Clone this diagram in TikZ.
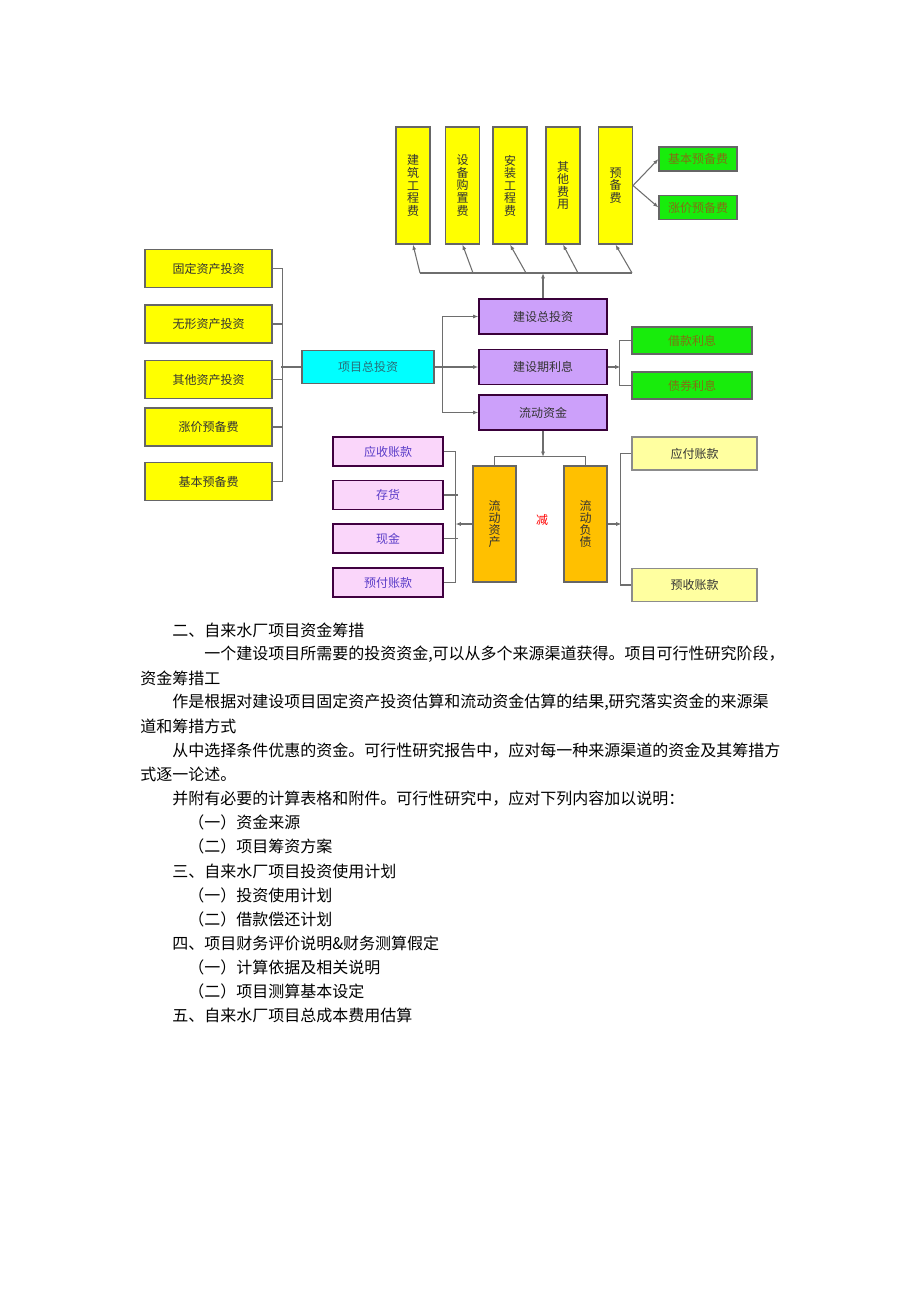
\documentclass[tikz,border=0pt]{standalone}
\usepackage{fontspec}
\setmainfont{Noto Sans CJK SC}
\usetikzlibrary{arrows.meta,positioning}

\definecolor{boxyellow}{RGB}{255,255,0}
\definecolor{boxgreen}{RGB}{24,236,12}
\definecolor{greentext}{RGB}{130,112,20}
\definecolor{boxcyan}{RGB}{0,255,255}
\definecolor{cyantext}{RGB}{40,110,120}
\definecolor{boxpurple}{RGB}{204,160,250}
\definecolor{boxpink}{RGB}{250,214,250}
\definecolor{pinktext}{RGB}{90,60,200}
\definecolor{boxorange}{RGB}{255,192,0}
\definecolor{boxlight}{RGB}{255,255,160}
\definecolor{linegray}{RGB}{110,110,110}

\begin{document}
\begin{tikzpicture}
      [x=0.75pt, y=-0.75pt,
      link/.style={draw=linegray, line width=0.8pt},
      arrow/.style={link, -{Latex[length=4pt,width=3pt]}},
      base box/.style={draw=black!60, line width=0.8pt, inner sep=0pt, align=center,
        font=\fontsize{9}{9.4}\selectfont, text=black!80},
      tall box/.style={base box, fill=boxyellow, minimum width=25.5pt, minimum height=87.75pt},
      left box/.style={base box, fill=boxyellow, minimum width=95.25pt, minimum height=28.5pt},
      green box/.style={base box, fill=boxgreen, text=greentext},
      total box/.style={base box, fill=boxcyan, text=cyantext, minimum width=99pt, minimum height=24.75pt},
      purple box/.style={base box, fill=boxpurple, draw=black!55!violet, minimum width=96pt, minimum height=26.25pt},
      pink box/.style={base box, fill=boxpink, draw=black!50!violet, text=pinktext, minimum width=82.5pt, minimum height=21.75pt},
      flow box/.style={base box, fill=boxorange, minimum width=32.25pt, minimum height=87pt,
        font=\fontsize{9}{9}\selectfont},
      light box/.style={base box, draw=black!45, fill=boxlight, minimum width=93.75pt, minimum height=24.75pt},
      para/.style={anchor=west, inner sep=0pt, font=\fontsize{12}{14}\selectfont}
      ]
    \useasboundingbox (0,0) rectangle (920,1302);

    % construction cost items
    \node[tall box] (jz) at (413,185.5) {建\\筑\\工\\程\\费};
    \node[tall box] (sb) at (462.5,185.5) {设\\备\\购\\置\\费};
    \node[tall box] (az) at (510,185.5) {安\\装\\工\\程\\费};
    \node[tall box] (qt) at (563,185.5) {其\\他\\费\\用};
    \node[tall box] (yb) at (615.5,185.5) {预\\备\\费};
    \node[green box, minimum width=58.5pt, minimum height=18pt] (jb top) at (698,159) {基本预备费};
    \node[green box, minimum width=58.5pt, minimum height=18pt] (zj top) at (698,207.5) {涨价预备费};

    % left column
    \node[left box] (gd) at (208.5,268.5) {固定资产投资};
    \node[left box] (wx) at (208.5,324) {无形资产投资};
    \node[left box] (qz) at (208.5,379.5) {其他资产投资};
    \node[left box] (zj) at (208.5,427) {涨价预备费};
    \node[left box] (jb) at (208.5,481.5) {基本预备费};

    \node[total box] (zt) at (368,367) {项目总投资};

    \node[purple box] (js) at (543,316.5) {建设总投资};
    \node[purple box] (jq) at (543,367) {建设期利息};
    \node[purple box] (ld) at (543,412.5) {流动资金};

    \node[green box, minimum width=90pt, minimum height=20.25pt] (jk) at (692,340.5) {借款利息};
    \node[green box, minimum width=90pt, minimum height=20.25pt] (zq) at (692,385.5) {债券利息};

    % working capital
    \node[pink box] (ys) at (388,451.5) {应收账款};
    \node[pink box] (ch) at (388,495) {存货};
    \node[pink box] (xj) at (388,538.5) {现金};
    \node[pink box] (yf) at (388,582.5) {预付账款};

    \node[flow box] (lz) at (494.5,524) {流\\动\\资\\产};
    \node[flow box] (lf) at (585.5,524) {流\\动\\负\\债};
    \node[text=red, font=\fontsize{9}{9}\selectfont] (jian) at (542,520) {减};

    \node[light box] (yfz) at (694.5,453.5) {应付账款};
    \node[light box] (ysz) at (694.5,585) {预收账款};

    % connectors
    \draw[link] (gd.east) -- ++(10,0) |- (jb.east);
    \draw[link] (wx.east) -- ++(10,0);
    \draw[link] (qz.east) -- ++(10,0);
    \draw[link] (zj.east) -- ++(10,0);
    \draw[link] (zt.west) -- ++(-20,0);

    \coordinate (bus) at (543,273);
    \foreach \n/\x in {jz/420, sb/473, az/526, qt/578, yb/632}
      \coordinate (t\n) at (\x,273);
    \draw[link] (tjz) -- (tyb);
    \foreach \n in {jz, sb, az, qt, yb}
      \draw[arrow] (t\n) -- (\n.south);
    \draw[arrow] (js.north) -- (bus);
    \draw[arrow] (yb.east) -- (jb top.west);
    \draw[arrow] (yb.east) -- (zj top.west);

    \draw[link] (zt.east) -- ++(8,0) coordinate (zr);
    \draw[arrow] (zr) |- (js.west);
    \draw[arrow] (zr) -- (jq.west);
    \draw[arrow] (zr) |- (ld.west);

    \draw[link] (jk.west) -- ++(-12,0) |- (zq.west);
    \draw[arrow] (jq.east) -- ++(13,0);

    \coordinate (split) at (543,457);
    \draw[arrow] (ld.south) -- (split);
    \draw[link] (lz.north) -- ++(0,-9) -| (lf.north);

    \draw[link] (ys.east) -- ++(12,0) |- (yf.east);
    \draw[link] (ch.east) -- ++(14,0);
    \draw[link] (xj.east) -- ++(14,0);
    \draw[arrow] (lz.west) -- ++(-17,0);

    \draw[link] (yfz.west) -- ++(-11,0) |- (ysz.west);
    \draw[arrow] (lf.east) -- ++(14,0);

    % text below the chart
    \node[para] (t1) at (172,630) {二、自来水厂项目资金筹措};
    \node[para] (t2) at (204,654.1) {一个建设项目所需要的投资资金,可以从多个来源渠道获得。项目可行性研究阶段，};
    \node[para] (t3) at (140,678.2) {资金筹措工};
    \node[para] (t4) at (172,702.3) {作是根据对建设项目固定资产投资估算和流动资金估算的结果,研究落实资金的来源渠};
    \node[para] (t5) at (140,726.4) {道和筹措方式};
    \node[para] (t6) at (172,750.5) {从中选择条件优惠的资金。可行性研究报告中，应对每一种来源渠道的资金及其筹措方};
    \node[para] (t7) at (140,774.6) {式逐一论述。};
    \node[para] (t8) at (172,798.7) {并附有必要的计算表格和附件。可行性研究中，应对下列内容加以说明：};
    \node[para] (t9) at (188,822.8) {（一）资金来源};
    \node[para] (t10) at (188,846.9) {（二）项目筹资方案};
    \node[para] (t11) at (172,871) {三、自来水厂项目投资使用计划};
    \node[para] (t12) at (188,895.1) {（一）投资使用计划};
    \node[para] (t13) at (188,919.2) {（二）借款偿还计划};
    \node[para] (t14) at (172,943.3) {四、项目财务评价说明\&财务测算假定};
    \node[para] (t15) at (188,967.4) {（一）计算依据及相关说明};
    \node[para] (t16) at (188,991.5) {（二）项目测算基本设定};
    \node[para] (t17) at (172,1015.6) {五、自来水厂项目总成本费用估算};
\end{tikzpicture}
\end{document}
